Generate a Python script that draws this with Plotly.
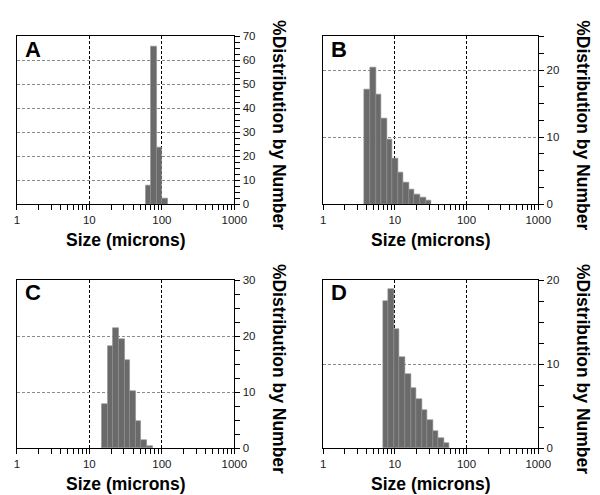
import numpy as np
import plotly.graph_objects as go

# ---------------- data ----------------
# bin centre sizes (microns) and % distribution by number for each panel
a_size = [64.7, 77.3, 92.4, 110.0]
a_pct = [7.7, 66.0, 23.8, 2.4]

b_size = [4.14, 4.95, 5.91, 7.07, 8.45, 10.1, 12.07, 14.43, 17.25, 20.6, 24.6, 29.5]
b_pct = [17.1, 20.45, 16.4, 12.75, 9.6, 6.85, 4.7, 3.2, 2.25, 1.45, 0.98, 0.53]

c_size = [16.3, 19.5, 23.3, 27.9, 33.3, 39.8, 47.6, 56.9, 68.0]
c_pct = [7.85, 18.3, 21.35, 19.55, 15.8, 10.25, 4.9, 1.5, 0.45]

d_size = [7.44, 8.89, 10.6, 12.7, 15.2, 18.2, 21.7, 25.9, 31.0, 37.1, 44.3, 52.9]
d_pct = [17.55, 18.9, 14.2, 10.8, 8.85, 7.1, 5.9, 4.55, 3.3, 2.05, 1.18, 0.56]

bin_width_decades = 0.0775

panel_labels = ["A", "B", "C", "D"]
y_max = [70, 25, 30, 20]
x_tick_labels = ["1", "10", "100", "1000"]
x_title = "Size (microns)"
y_title = "%Distribution by Number"

# ---------------- layout ----------------
W, H = 600, 495
# plot areas in pixels: (left, right, top, bottom)
boxes = [(6, 229.5, 23, 195), (320.7, 541.7, 23, 195),
         (6, 229.5, 272.7, 445), (320.7, 541.7, 272.7, 445)]

sizes = [a_size, b_size, c_size, d_size]
pcts = [a_pct, b_pct, c_pct, d_pct]

fig = go.Figure()

minor_x = [np.log10(m * 10 ** k) for k in range(3) for m in range(2, 10)]
font = "Arial, Liberation Sans, sans-serif"
tick_color = "#1a1a1a"

annotations = []
for i in range(4):
    n = "" if i == 0 else str(i + 1)
    xa, ya = "x" + n, "y" + n
    fig.add_trace(go.Bar(
        x=np.log10(sizes[i]), y=pcts[i], width=bin_width_decades,
        marker=dict(color="#6a6a6a", line=dict(color="#8e8e8e", width=0.6)),
        xaxis=xa, yaxis=ya, showlegend=False, hoverinfo="skip"))
    l, r, t, b = boxes[i]
    fig.layout["xaxis" + n] = dict(
        domain=[l / W, r / W], anchor=ya, range=[0, 3],
        tickmode="array", tickvals=[0, 1, 2, 3], ticktext=x_tick_labels,
        ticks="outside", ticklen=5, tickcolor="#000", tickwidth=1,
        showline=True, linecolor="#000", linewidth=1, mirror=True,
        showgrid=True, gridcolor="#000", griddash="3px,2px", gridwidth=1,
        zeroline=False,
        minor=dict(tickmode="array", tickvals=minor_x, ticks="outside",
                   ticklen=5, tickcolor="#000", showgrid=False),
        tickfont=dict(family=font, size=11.5, color=tick_color),
        fixedrange=True)
    fig.layout["yaxis" + n] = dict(
        domain=[1 - b / H, 1 - t / H], anchor=xa, range=[0, y_max[i]],
        side="right", dtick=10, tick0=0,
        ticks="outside", ticklen=5, tickcolor="#000", tickwidth=1,
        showline=True, linecolor="#000", linewidth=1, mirror=True,
        showgrid=True, gridcolor="#8a8a8a", griddash="3px,2px", gridwidth=1,
        zeroline=False,
        minor=dict(dtick=2.5, tick0=0, ticks="outside", ticklen=5,
                   tickcolor="#000", showgrid=False),
        tickfont=dict(family=font, size=11.5, color=tick_color),
        fixedrange=True)
    # panel letter
    annotations.append(dict(
        xref="paper", yref="paper", x=(l + 6) / W, y=1 - (t + 13) / H,
        xanchor="left", yanchor="middle", text="<b>%s</b>" % panel_labels[i],
        showarrow=False, font=dict(family=font, size=22, color="#000")))
    # x title
    annotations.append(dict(
        xref="paper", yref="paper", x=(l + r) / 2 / W, y=1 - (b + 37) / H,
        xanchor="center", yanchor="middle", text="<b>%s</b>" % x_title,
        showarrow=False, font=dict(family=font, size=17.5, color="#000")))
    # y title (rotated, reading top to bottom)
    annotations.append(dict(
        xref="paper", yref="paper", x=(r + 46) / W, y=1 - ((t + b) / 2 + 5) / H,
        xanchor="center", yanchor="middle", text="<b>%s</b>" % y_title,
        textangle=90, showarrow=False,
        font=dict(family=font, size=17.5, color="#000")))

fig.update_layout(
    width=W, height=H, margin=dict(l=0, r=0, t=0, b=0),
    paper_bgcolor="white", plot_bgcolor="white",
    bargap=0, annotations=annotations)

fig.write_html("out.html")
